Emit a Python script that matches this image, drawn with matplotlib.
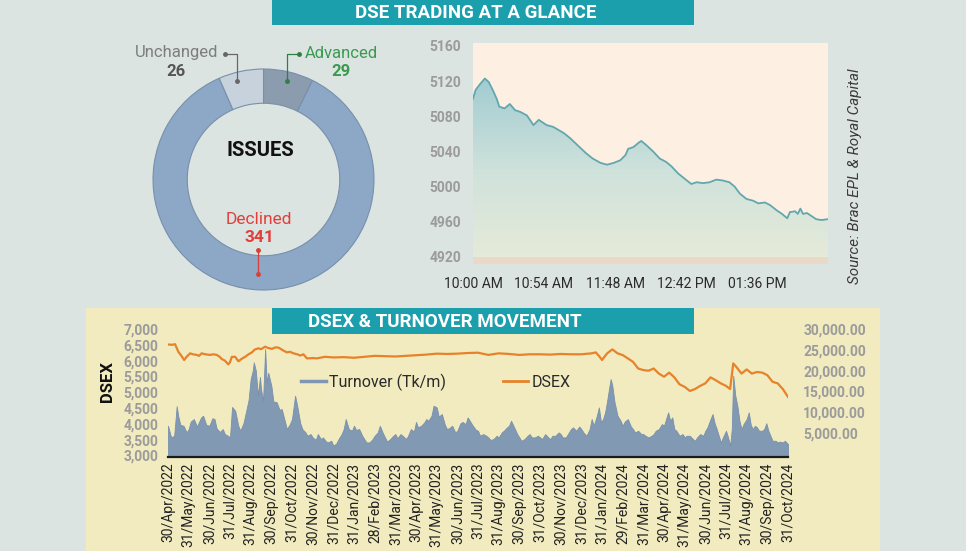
import numpy as np
import matplotlib
matplotlib.use("Agg")
import matplotlib.pyplot as plt
from matplotlib.patches import Rectangle
from matplotlib.lines import Line2D
from matplotlib.colors import LinearSegmentedColormap

# ---- issues donut
issue_names = ["Advanced", "Declined", "Unchanged"]
issue_counts = [29, 341, 26]

# ---- intraday DSEX (minutes after 10:00 AM)
intra_min = [0, 2, 5, 9, 12, 15, 18, 20, 24, 28, 32, 36, 41, 46, 50, 56, 61, 69, 74, 81,
             86, 91, 97, 102, 107, 112, 116, 118, 122, 126, 128, 132, 137, 142, 147, 151,
             156, 161, 166, 170, 175, 180, 185, 190, 195, 199, 203, 208, 213, 217, 222,
             226, 231, 235, 239, 241, 245, 247, 249, 251, 254, 258, 261, 265, 270]
intra_val = [5100, 5110, 5116, 5123, 5119, 5110, 5100, 5091, 5089, 5094, 5087, 5085, 5081,
             5070, 5076, 5070, 5068, 5061, 5055, 5045, 5038, 5032, 5027, 5025, 5027, 5030,
             5036, 5043, 5045, 5050, 5052, 5047, 5040, 5032, 5028, 5023, 5015, 5009, 5003,
             5005, 5004, 5005, 5008, 5007, 5005, 5000, 4992, 4986, 4984, 4981, 4982, 4979,
             4973, 4969, 4964, 4971, 4972, 4969, 4975, 4969, 4970, 4966, 4963, 4962, 4963]
intra_ticks = [0, 54, 108, 162, 216]
intra_labels = ["10:00 AM", "10:54 AM", "11:48 AM", "12:42 PM", "01:36 PM"]

# ---- DSEX & turnover, x in months since 30/Apr/2022
month_labels = ["30/Apr/2022", "31/May/2022", "30/Jun/2022", "31/Jul/2022", "31/Aug/2022",
                "30/Sep/2022", "31/Oct/2022", "30/Nov/2022", "31/Dec/2022", "31/Jan/2023",
                "28/Feb/2023", "31/Mar/2023", "30/Apr/2023", "31/May/2023", "30/Jun/2023",
                "31/Jul/2023", "31/Aug/2023", "30/Sep/2023", "31/Oct/2023", "30/Nov/2023",
                "31/Dec/2023", "31/Jan/2024", "29/Feb/2024", "31/Mar/2024", "30/Apr/2024",
                "31/May/2024", "30/Jun/2024", "31/Jul/2024", "31/Aug/2024", "30/Sep/2024",
                "31/Oct/2024"]

turn_m = [0, 0.15, 0.3, 0.42, 0.5, 0.6, 0.75, 0.9, 1.0, 1.1, 1.25, 1.4, 1.5, 1.6, 1.7, 1.85,
          2.0, 2.15, 2.25, 2.35, 2.5, 2.65, 2.75, 2.9, 3.0, 3.1, 3.25, 3.4, 3.5, 3.65, 3.75,
          3.9, 4.0, 4.1, 4.15, 4.25, 4.35, 4.45, 4.5, 4.6, 4.7, 4.78, 4.85, 5.0, 5.1, 5.25,
          5.4, 5.5, 5.65, 5.75, 5.9, 6.0, 6.15, 6.25, 6.4, 6.5, 6.65, 6.75, 6.9, 7.0, 7.15,
          7.25, 7.4, 7.5, 7.65, 7.75, 7.9, 8.0, 8.15, 8.25, 8.4, 8.5, 8.6, 8.75, 8.9, 9.0,
          9.1, 9.25, 9.4, 9.5, 9.6, 9.75, 9.9, 10.0, 10.15, 10.25, 10.4, 10.5, 10.6, 10.75,
          10.9, 11.0, 11.1, 11.25, 11.4, 11.5, 11.6, 11.75, 11.9, 12.0, 12.1, 12.25, 12.4,
          12.5, 12.6, 12.75, 12.85, 13.0, 13.1, 13.25, 13.4, 13.5, 13.6, 13.75, 13.9, 14.0,
          14.15, 14.25, 14.4, 14.5, 14.6, 14.75, 14.9, 15.0, 15.1, 15.25, 15.4, 15.5, 15.6,
          15.75, 15.9, 16.0, 16.15, 16.25, 16.4, 16.5, 16.6, 16.75, 16.9, 17.0, 17.1, 17.25,
          17.4, 17.5, 17.6, 17.75, 17.9, 18.0, 18.1, 18.25, 18.4, 18.5, 18.6, 18.75, 18.9,
          19.0, 19.1, 19.25, 19.4, 19.5, 19.6, 19.75, 19.9, 20.0, 20.1, 20.25, 20.4, 20.5,
          20.6, 20.75, 20.85, 20.95, 21.05, 21.15, 21.25, 21.35, 21.42, 21.5, 21.6, 21.75,
          21.9, 22.0, 22.1, 22.25, 22.4, 22.5, 22.6, 22.75, 22.9, 23.0, 23.1, 23.25, 23.4,
          23.5, 23.6, 23.75, 23.9, 24.0, 24.1, 24.2, 24.3, 24.4, 24.5, 24.6, 24.75, 24.9,
          25.0, 25.1, 25.25, 25.4, 25.5, 25.6, 25.75, 25.9, 26.0, 26.1, 26.25, 26.35, 26.45,
          26.55, 26.65, 26.75, 26.85, 27.0, 27.1, 27.2, 27.28, 27.35, 27.45, 27.55, 27.65,
          27.75, 27.85, 28.0, 28.1, 28.2, 28.3, 28.4, 28.5, 28.6, 28.75, 28.85, 28.95, 29.05,
          29.15, 29.25, 29.4, 29.5, 29.6, 29.75, 29.85, 30.0]
turnover = [6800, 4000, 4400, 11500, 9000, 7000, 6800, 5200, 6000, 7800, 8400, 6600, 7700,
            8800, 9200, 7000, 6800, 8600, 8400, 6200, 5300, 6000, 4800, 4400, 4000, 11300,
            10400, 6800, 5600, 7400, 9600, 13000, 18000, 20000, 22000, 20000, 14000, 18500,
            15600, 12800, 25200, 17000, 19500, 16400, 12600, 12500, 10600, 10800, 8000, 6000,
            7200, 8400, 14000, 11600, 7400, 6000, 5200, 4400, 4800, 4000, 3400, 4800, 3600,
            4000, 3000, 2800, 3200, 2000, 2600, 3600, 4800, 6000, 8400, 6000, 5600, 6800,
            5800, 6000, 4400, 3600, 2800, 2800, 3600, 4400, 5200, 6800, 5000, 4000, 3000,
            3600, 4400, 4800, 3800, 4800, 4200, 3600, 4200, 6000, 5400, 7700, 6400, 6800,
            7600, 8400, 8000, 9200, 11600, 11200, 9000, 9600, 7000, 6000, 6200, 6800, 5200,
            5600, 7400, 7700, 7200, 8800, 8000, 6800, 5800, 5600, 4400, 4800, 4400, 4000,
            3400, 3600, 4400, 4000, 5200, 5600, 6400, 6800, 8000, 6400, 4800, 4000, 3200,
            3600, 4400, 4800, 4000, 4000, 4400, 4000, 3600, 4800, 4000, 3600, 4400, 4400,
            5200, 4800, 4000, 4000, 5200, 6000, 6400, 5600, 6600, 6000, 5200, 4400, 6000,
            8400, 6800, 9200, 11200, 7600, 8400, 10000, 12800, 16000, 18000, 16400, 12600,
            9200, 8000, 6800, 7800, 8400, 6600, 6000, 5200, 5600, 4800, 4800, 4400, 4000,
            4400, 4800, 5600, 6000, 7200, 6800, 8400, 10000, 8000, 8800, 6000, 5600, 4400,
            4800, 4000, 4400, 4400, 3600, 3200, 4000, 4800, 4400, 5600, 6400, 8400, 9600,
            7400, 6000, 4400, 2800, 4000, 5600, 4000, 2000, 6000, 18800, 14000, 11600, 8000,
            6000, 7200, 8400, 10000, 7000, 6000, 6800, 6400, 5600, 5600, 6000, 7400, 5600,
            4400, 3200, 3200, 2800, 3000, 2800, 3200, 2400]

dsex_m = [0, 0.2, 0.34, 0.5, 0.65, 0.78, 0.9, 1.07, 1.2, 1.39, 1.5, 1.63, 1.8, 2.04, 2.2,
          2.36, 2.5, 2.6, 2.75, 2.92, 3.0, 3.09, 3.25, 3.41, 3.55, 3.73, 3.9, 4.06, 4.2, 4.38,
          4.5, 4.7, 4.85, 5.03, 5.2, 5.35, 5.55, 5.75, 5.9, 6.07, 6.25, 6.4, 6.55, 6.72, 7.0,
          7.2, 7.6, 8.0, 8.5, 9.0, 9.5, 10.0, 10.5, 11.0, 11.5, 12.0, 12.5, 13.0, 13.5, 14.0,
          14.5, 15.0, 15.5, 16.0, 16.5, 17.0, 17.5, 18.0, 18.5, 19.0, 19.5, 20.0, 20.5, 20.7,
          20.85, 21.0, 21.25, 21.5, 21.75, 22.0, 22.25, 22.5, 22.75, 23.0, 23.25, 23.5,
          23.75, 24.0, 24.25, 24.5, 24.75, 25.0, 25.25, 25.5, 25.75, 26.0, 26.25, 26.5,
          26.75, 27.0, 27.2, 27.35, 27.5, 27.75, 28.0, 28.25, 28.5, 28.75, 29.0, 29.25, 29.5,
          29.75, 30.0]
dsex = [6510, 6500, 6520, 6280, 6150, 6020, 6120, 6230, 6200, 6180, 6150, 6230, 6200, 6180,
        6200, 6180, 6120, 6050, 6000, 5880, 5950, 6120, 6120, 5980, 6050, 6120, 6200, 6260,
        6350, 6390, 6360, 6440, 6400, 6370, 6420, 6410, 6330, 6260, 6280, 6230, 6200, 6160,
        6200, 6070, 6080, 6070, 6120, 6100, 6110, 6090, 6120, 6150, 6140, 6130, 6150, 6170,
        6190, 6220, 6210, 6220, 6240, 6250, 6180, 6230, 6210, 6180, 6200, 6200, 6190, 6210,
        6200, 6200, 6230, 6260, 6150, 6020, 6230, 6355, 6230, 6175, 6070, 5960, 5750, 5700,
        5680, 5750, 5590, 5490, 5620, 5470, 5250, 5170, 5040, 5100, 5200, 5280, 5470, 5380,
        5280, 5200, 5100, 5910, 5800, 5590, 5720, 5590, 5640, 5620, 5540, 5330, 5280, 5100,
        4850]

W, H = 966, 551
COND = ["Roboto", "DejaVu Sans"]
BG = "#dce4e2"
TEAL = "#1b9fac"


def box(l, t, r, b):
    return [l / W, 1 - b / H, (r - l) / W, (b - t) / H]


fig = plt.figure(figsize=(W / 100, H / 100), dpi=100, facecolor=BG)

bg = fig.add_axes([0, 0, 1, 1], zorder=0)
bg.set_xlim(0, W)
bg.set_ylim(H, 0)
bg.axis("off")
bg.add_patch(Rectangle((86, 308), 794, 243, color="#f1ebbf", lw=0))

fg = fig.add_axes([0, 0, 1, 1], zorder=10)
fg.set_xlim(0, W)
fg.set_ylim(H, 0)
fg.axis("off")
fg.patch.set_alpha(0)
fg.add_patch(Rectangle((272, 0), 422, 25, color=TEAL, lw=0))
fg.add_patch(Rectangle((272, 308), 422, 26, color=TEAL, lw=0))
fg.text(476, 13, "DSE TRADING AT A GLANCE", color="white", fontsize=13.5, fontweight="bold",
        ha="center", va="center", family=COND)
fg.text(445, 322, "DSEX & TURNOVER MOVEMENT", color="white", fontsize=13.5, fontweight="bold",
        ha="center", va="center", family=COND)

# ---------------- donut ----------------
axd = fig.add_axes(box(153, 69, 374, 290), zorder=2)
axd.pie(issue_counts, startangle=90, counterclock=False, radius=1,
        colors=["#8b9cae", "#8ca8c6", "#c8d2dc"],
        wedgeprops=dict(width=0.31, edgecolor="#7790ab", linewidth=0.8))
axd.set_xlim(-1, 1)
axd.set_ylim(-1, 1)
axd.set_aspect("equal")
axd.axis("off")

fg.text(260, 151, "ISSUES", fontsize=14.5, fontweight="bold", ha="center", va="center",
        family=COND, color="#111111")
fg.text(177, 53, "Unchanged", fontsize=12, color="#7d7d7d", ha="center", va="center", family=COND)
fg.text(176, 71, "26", fontsize=12, color="#555555", fontweight="bold", ha="center",
        va="center", family=COND)
fg.plot([225, 237, 237], [54, 54, 81], color="#666666", lw=0.9)
fg.plot([225, 237], [54, 81], "o", color="#666666", ms=2.5, ls="none")
fg.text(341, 53, "Advanced", fontsize=12, color="#3a9a4f", ha="center", va="center", family=COND)
fg.text(341, 71, "29", fontsize=12, color="#3a9a4f", fontweight="bold", ha="center",
        va="center", family=COND)
fg.plot([299, 287, 287], [54, 54, 81], color="#2f7f45", lw=0.9)
fg.plot([299, 287], [54, 81], "o", color="#2f7f45", ms=2.5, ls="none")
fg.text(259, 220, "Declined", fontsize=12.5, color="#e0403b", ha="center", va="center",
        family=COND)
fg.text(259, 238, "341", fontsize=12.5, color="#e0403b", fontweight="bold", ha="center",
        va="center", family=COND)
fg.plot([258, 258], [250, 274], color="#d8403b", lw=0.9)
fg.plot([258, 258], [250, 274], "o", color="#d8403b", ms=2.5, ls="none")

fg.text(855, 176, "Source: Brac EPL & Royal Capital", rotation=90, fontsize=11,
        style="italic", color="#3a3a3a", ha="center", va="center", family=COND)

# ---------------- intraday chart ----------------
axl = fig.add_axes(box(473, 43, 828, 264), zorder=2)
ylo, yhi = 4912, 5163.4
axl.set_facecolor("#fdf0e2")
axl.axhspan(ylo, ylo + 7 / 0.879, color="#ead9c6", lw=0, zorder=3)
cmap = LinearSegmentedColormap.from_list("g", ["#e7ebd9", "#cfe2db", "#a2ccd1"])
grad = np.linspace(0, 1, 256).reshape(-1, 1)
im = axl.imshow(grad, extent=[0, 270, ylo, max(intra_val)], origin="lower", aspect="auto",
                cmap=cmap, zorder=1)
poly = axl.fill_between(intra_min, intra_val, ylo, color="none", lw=0)
im.set_clip_path(poly.get_paths()[0], transform=axl.transData)
axl.plot(intra_min, intra_val, color="#62a7ae", lw=1.3, zorder=2)
axl.set_xlim(0, 270)
axl.set_ylim(ylo, yhi)
axl.set_yticks(range(4920, 5161, 40))
axl.set_xticks(intra_ticks)
axl.set_xticklabels(intra_labels)
axl.tick_params(length=0)
axl.tick_params(axis="y", pad=8.5, labelsize=10, labelcolor="#9b9b9b")
axl.tick_params(axis="x", pad=9, labelsize=10, labelcolor="#2a2a2a")
for lab in axl.get_yticklabels() + axl.get_xticklabels():
    lab.set_family(COND)
for lab in axl.get_yticklabels():
    lab.set_fontweight("bold")
for s in axl.spines.values():
    s.set_visible(False)

# ---------------- DSEX & turnover ----------------
ax = fig.add_axes(box(168, 329, 788, 457), zorder=2)
ax.patch.set_alpha(0)
ax2 = ax.twinx()
ax.set_zorder(3)
ax2.set_zorder(2)
ax2.patch.set_alpha(0)
ax.set_xlim(0, 30)
ax.set_ylim(2950, 7000)
ax2.set_ylim(-700, 30000)
ax2.fill_between(turn_m, turnover, ax2.get_ylim()[0], color="#8299b4", lw=0.6,
                 edgecolor="#7890ad")
ax.plot(dsex_m, dsex, color="#e8822a", lw=1.6)

ax.set_xticks(range(len(month_labels)))
ax.set_xticklabels(month_labels, rotation=90, fontsize=10, color="#222222")
ax.set_yticks(range(3000, 7001, 500))
ax.set_yticklabels([f"{v:,}" for v in range(3000, 7001, 500)])
ax2.set_yticks(range(5000, 30001, 5000))
ax2.set_yticklabels([f"{v:,.2f}" for v in range(5000, 30001, 5000)])
ax.tick_params(length=0)
ax2.tick_params(length=0)
ax.tick_params(axis="y", pad=7, labelsize=10, labelcolor="#9b9b9b")
ax2.tick_params(axis="y", pad=11, labelsize=10, labelcolor="#9b9b9b")
ax.tick_params(axis="x", pad=4)
for lab in ax.get_yticklabels() + ax2.get_yticklabels() + ax.get_xticklabels():
    lab.set_family(COND)
for lab in ax.get_yticklabels() + ax2.get_yticklabels():
    lab.set_fontweight("bold")
for a in (ax, ax2):
    for s in a.spines.values():
        s.set_visible(False)
ax.spines["bottom"].set_visible(True)
ax.spines["bottom"].set_color("#1a1a1a")
ax.spines["bottom"].set_linewidth(1.6)
ax.set_ylabel("DSEX", fontsize=12, fontweight="bold", family=COND, color="#111111")
ax.yaxis.set_label_coords(-0.085, 0.59)

handles = [Line2D([], [], color="#7f97b2", lw=2.5), Line2D([], [], color="#e8822a", lw=2)]
leg = fig.legend(handles, ["Turnover (Tk/m)", "DSEX"], loc="center left",
                 bbox_to_anchor=(301 / W, 1 - 382 / H), ncol=2, frameon=False,
                 handlelength=1.55, handletextpad=0.2, columnspacing=3.6, borderpad=0,
                 borderaxespad=0, prop={"family": COND, "size": 11.5})
for t in leg.get_texts():
    t.set_color("#2a2a2a")
leg.set_zorder(20)

fig.savefig("out.png", dpi=100, facecolor=BG)
